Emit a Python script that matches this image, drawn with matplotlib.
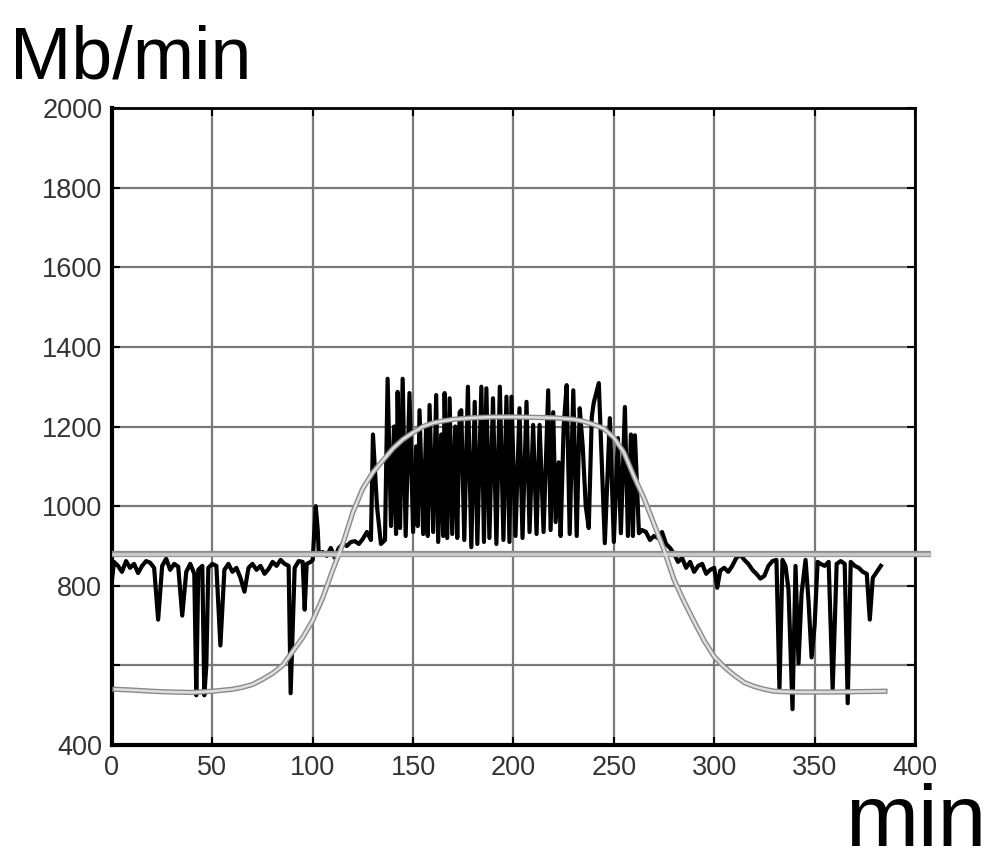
import numpy as np
import matplotlib
matplotlib.use("Agg")
from matplotlib import pyplot as plt

plt.rcParams['font.family'] = ['Liberation Sans', 'DejaVu Sans']

# measured traffic (black), min / Mb/min
traffic_x = [0, 1, 3, 5, 7, 9, 11, 13, 15, 17, 19, 21, 23, 25, 27, 29, 31, 33, 35, 37,
             39, 41, 42, 43, 45, 46, 47, 48, 50, 52, 54, 56, 58, 60, 62, 64, 66, 68, 70, 72,
             74, 76, 78, 80, 82, 84, 86, 88, 89, 91, 93, 95, 96, 97, 99, 100, 101.5, 102.5, 103, 105,
             107, 109, 111, 113, 115, 117, 119, 121, 123, 125, 127, 129, 130, 132, 134, 136,
             137.3, 139, 140.5, 141.5, 142.3, 143.5, 144.8, 146.3, 148.2, 150, 151.5, 152.3, 153.2, 155,
             156.5, 157.3, 158.2, 160, 161.5, 162.5, 164, 165, 165.7, 167, 168.2, 169.5, 171, 172,
             173.2, 174, 175.5, 177.3, 179, 180.7, 182, 184, 185.3, 186.5, 188, 189.8, 191.5, 193.2,
             195, 196.5, 198, 199, 201, 203, 204.5, 206.5, 208, 209.8, 211.5, 213, 215, 217.3,
             218.5, 219.8, 221, 222.5, 223.5, 225, 226.5, 228, 229.8, 231.5, 233, 234.5, 236, 237.5,
             239, 240, 242.5, 245.5, 248, 250, 252, 253.5, 255.5, 257, 258.5, 259.5, 260.5, 262.5,
             264, 266, 268, 270, 272, 274, 276, 278, 280, 282, 284, 286, 288, 290, 292, 294,
             296, 298, 300, 301.5, 303, 305, 307, 309, 311, 313, 315, 317, 319, 321, 323, 325,
             327, 329, 331, 332.5, 334, 335.5, 337, 339, 340.5, 342, 343.5, 345.5, 347, 348.5,
             350, 351.5, 353, 355, 357, 359, 361, 363, 365, 366.5, 368, 370, 372, 374, 376, 377.5,
             379, 381, 383]
traffic_y = [815, 860, 850, 835, 862, 845, 855, 832, 850, 862, 858, 845, 715, 850, 868, 840, 855, 848, 725, 835,
             855, 830, 525, 840, 850, 525, 600, 845, 855, 850, 650, 840, 855, 835, 845, 820, 785, 845, 855, 840,
             850, 830, 842, 860, 850, 865, 855, 850, 530, 845, 862, 860, 740, 855, 860, 865, 1000, 940, 880, 885,
             875, 895, 870, 895, 905, 900, 910, 912, 905, 918, 935, 915, 1180, 1000, 905, 915,
             1320, 950, 1200, 930, 1287, 945, 1320, 925, 1284, 935, 1150, 950, 1241, 930,
             1200, 925, 1254, 935, 1279, 910, 1180, 925, 1284, 920, 1271, 930, 1200, 920,
             1236, 1241, 915, 1300, 897, 1262, 905, 1300, 910, 1296, 920, 1271, 905, 1300,
             915, 1275, 910, 1275, 925, 1246, 920, 1262, 935, 1204, 930, 1204, 935, 1291,
             940, 1236, 960, 1110, 925, 1200, 1304, 930, 1291, 925, 1246, 1150, 1000, 945,
             1224, 1260, 1309, 907, 1221, 910, 1171, 932, 1249, 925, 1180, 925, 1178, 932,
             940, 935, 915, 925, 920, 935, 905, 895, 880, 860, 870, 845, 860, 835, 850, 855,
             830, 840, 845, 795, 838, 845, 835, 850, 870, 878, 865, 855, 840, 830, 818, 825,
             850, 862, 865, 540, 865, 850, 790, 490, 850, 605, 780, 865, 760, 620,
             700, 860, 855, 850, 860, 540, 855, 862, 855, 505, 860, 850, 845, 835, 830, 715,
             820, 835, 850]

# smooth model curve (gray)
model_x = [1.5, 10, 20, 30, 40, 50, 60, 65, 70, 75, 80, 85, 90, 95, 100, 105, 110, 115, 120, 125,
           130, 135, 140, 145, 150, 155, 160, 165, 170, 180, 190, 200, 210, 220, 230, 235, 240, 245, 250, 255,
           260, 265, 270, 275, 280, 285, 290, 295, 300, 305, 310, 315, 320, 325, 330, 340, 350, 360, 370, 385]
model_y = [540, 538, 535, 533, 532, 535, 540, 545, 552, 565, 580, 600, 635, 670, 713, 770, 840, 905, 985, 1045,
           1085, 1115, 1145, 1168, 1185, 1200, 1209, 1214, 1218, 1222, 1224, 1224, 1223, 1222, 1218, 1213, 1205, 1195, 1172, 1135,
           1075, 1020, 955, 890, 815, 760, 710, 662, 622, 596, 575, 557, 547, 540, 535, 533, 533, 533, 534, 535]

baseline = 880

x_ticks = [0, 50, 100, 150, 200, 250, 300, 350, 400]
y_ticks = [400, 600, 800, 1000, 1200, 1400, 1600, 1800, 2000]
y_tick_labels = ["400", "", "800", "1000", "1200", "1400", "1600", "1800", "2000"]

fig = plt.figure(figsize=(9.98, 8.67), dpi=100)
ax = fig.add_axes([0.1122, 0.1407, 0.8046, 0.7347])

ax.plot(traffic_x, traffic_y, color="black", lw=3.0, zorder=3)

# gray lines with a darker rim
ax.plot([0, 408], [baseline, baseline], color="#8a8a8a", lw=4.5, zorder=4,
        clip_on=False, solid_capstyle="butt")
ax.plot([0, 408], [baseline, baseline], color="#c8c8c8", lw=2.5, zorder=5,
        clip_on=False, solid_capstyle="butt")
ax.plot(model_x, model_y, color="#8a8a8a", lw=3.8, zorder=4)
ax.plot(model_x, model_y, color="#dedede", lw=1.8, zorder=5)

ax.set_xlim(0, 400)
ax.set_ylim(400, 2000)
ax.set_xticks(x_ticks)
ax.set_yticks(y_ticks)
ax.set_yticklabels(y_tick_labels)
ax.grid(True, color="#7a7a7a", lw=1.6)
ax.set_axisbelow(True)
ax.tick_params(direction="in", length=6, width=1.5, top=True, right=True,
               labelsize=19.5, labelcolor="#333333", pad=7)
for side in ["left", "bottom"]:
    ax.spines[side].set_linewidth(3)
for side in ["top", "right"]:
    ax.spines[side].set_linewidth(2)

fig.text(0.01, 0.972, "Mb/min", fontsize=53, va="top", ha="left", color="black")
fig.text(0.988, 0.003, "min", fontsize=63, va="bottom", ha="right", color="black")

plt.savefig("out.png", dpi=100)
plt.close(fig)
